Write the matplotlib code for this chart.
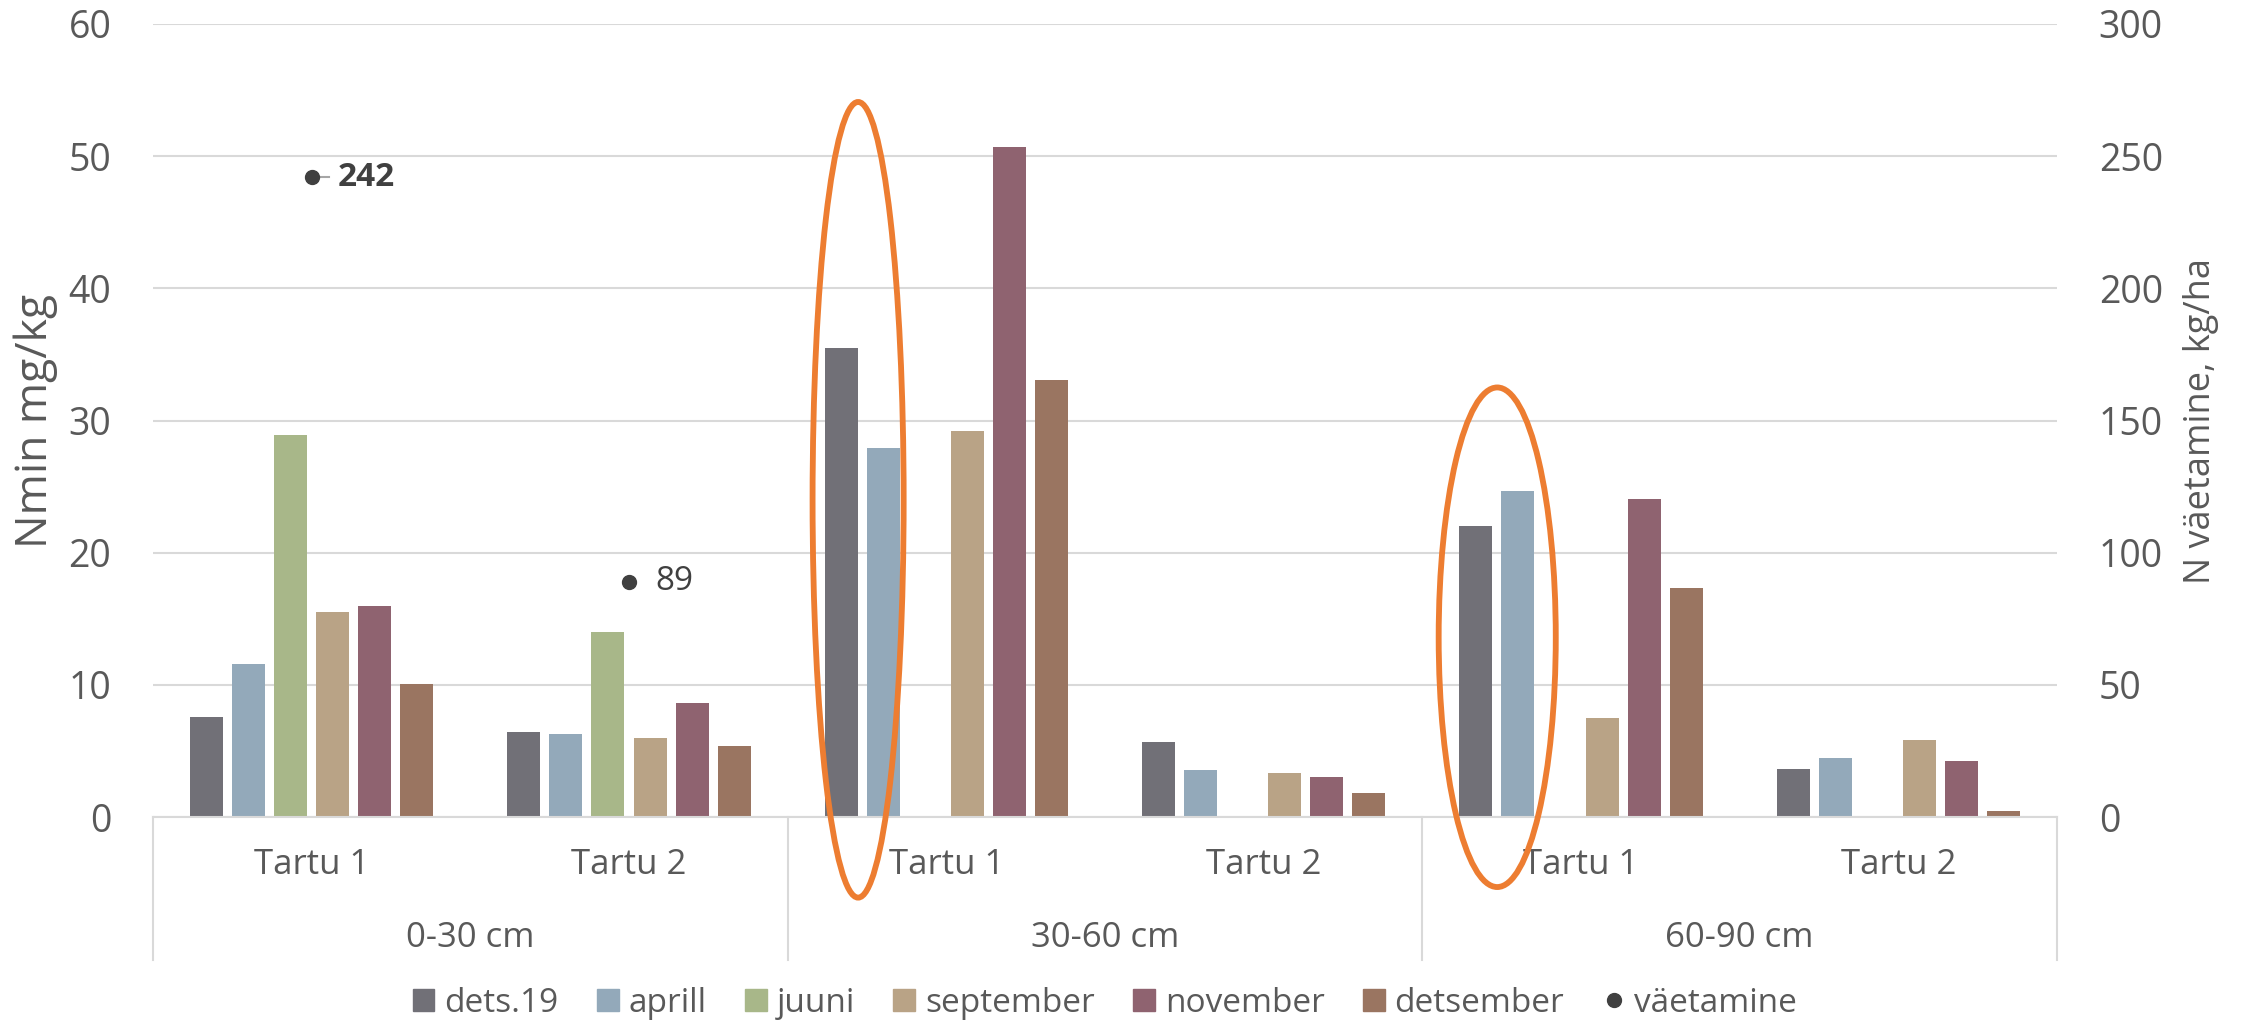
import numpy as np
import matplotlib.pyplot as plt
from matplotlib.patches import Ellipse
from matplotlib.lines import Line2D
from matplotlib.patches import Patch

plt.rcParams['font.family'] = ['Open Sans', 'DejaVu Sans']

# data
kohad = ['Tartu 1', 'Tartu 2', 'Tartu 1', 'Tartu 2', 'Tartu 1', 'Tartu 2']
kihid = ['0-30 cm', '30-60 cm', '60-90 cm']
seeriad = ['dets.19', 'aprill', 'juuni', 'september', 'november', 'detsember']
dets19 = [7.6, 6.4, 35.5, 5.65, 22.0, 3.6]
aprill = [11.6, 6.3, 27.9, 3.55, 24.7, 4.45]
juuni = [28.9, 14.0, np.nan, np.nan, np.nan, np.nan]
september = [15.5, 6.0, 29.2, 3.35, 7.5, 5.85]
november = [16.0, 8.65, 50.7, 3.0, 24.05, 4.2]
detsember = [10.05, 5.35, 33.1, 1.8, 17.35, 0.45]
vaetamine = [242, 89, np.nan, np.nan, np.nan, np.nan]
vaet_bold = [True, False]

varvid = ['#717077', '#93A9BA', '#A8B789', '#B9A386', '#8F6370', '#9A7561']
tekst = '#595959'
grid_c = '#D9D9D9'

fig = plt.figure(figsize=(22.44, 10.23), dpi=100)
ax = fig.add_axes([153/2244, (1023-817)/1023, 1904/2244, 793/1023])

x = np.arange(len(kohad))
samm = 0.1324
laius = 0.104
koik = [dets19, aprill, juuni, september, november, detsember]
for i, vals in enumerate(koik):
    ax.bar(x + (i - 2.5) * samm, vals, laius, color=varvid[i], zorder=2)

ax.set_xlim(-0.5, 5.5)
ax.set_ylim(0, 60)
ax.set_yticks(range(0, 61, 10))
ax.grid(axis='y', color=grid_c, lw=1.5, zorder=0)
ax.set_xticks([])
for s in ['top', 'left', 'right']:
    ax.spines[s].set_visible(False)
ax.spines['bottom'].set_color(grid_c)
ax.spines['bottom'].set_linewidth(1.5)
ax.tick_params(axis='y', length=0, pad=30, labelsize=27, labelcolor=tekst)
ax.set_ylabel('Nmin mg/kg', fontsize=32, color=tekst)
ax.yaxis.set_label_coords(-0.050, 0.5)

# two level category axis
tr = ax.get_xaxis_transform()
for xs in [-0.5, 1.5, 3.5, 5.5]:
    ax.plot([xs, xs], [0, -0.18], transform=tr, color=grid_c, lw=1.5, clip_on=False)
for i, k in enumerate(kohad):
    ax.text(i, -0.06, k, transform=tr, ha='center', va='center', fontsize=25, color=tekst)
for j, k in enumerate(kihid):
    ax.text(2 * j + 0.5, -0.152, k, transform=tr, ha='center', va='center', fontsize=25, color=tekst)

# second axis with fertilisation
ax2 = ax.twinx()
ax2.set_ylim(0, 300)
ax2.set_yticks(range(0, 301, 50))
for s in ax2.spines.values():
    s.set_visible(False)
ax2.tick_params(axis='y', length=0, pad=30, labelsize=27, labelcolor=tekst)
ax2.set_ylabel('N väetamine, kg/ha', fontsize=26, color=tekst, rotation=90)
ax2.yaxis.set_label_coords(1.066, 0.5)
ax2.scatter(x, vaetamine, s=100, color='#404040', zorder=3)
for i, v in enumerate(vaetamine):
    if np.isnan(v):
        continue
    if vaet_bold[i]:
        ax2.plot([i, i + 0.055], [v, v], color='#A6A6A6', lw=1.5, zorder=2)
        ax2.text(i + 0.082, v, f'{v:.0f}', fontsize=24, fontweight='bold', color='#404040', va='center')
    else:
        ax2.text(i + 0.082, v, f'{v:.0f}', fontsize=24, color='#404040', va='center')

# orange highlight ellipses
for cx, cy, w, h in [(1.722, 24.0, 0.287, 60.2), (3.736, 13.6, 0.369, 37.8)]:
    ax.add_patch(Ellipse((cx, cy), w, h, fill=False, edgecolor='#ED7D31', lw=4.2,
                         clip_on=False, zorder=5))

# legend
h = [Patch(color=c, label=s) for c, s in zip(varvid, seeriad)]
h.append(Line2D([], [], marker='o', ls='', color='#404040', markersize=10, label='väetamine'))
fig.legend(handles=h, loc='center', bbox_to_anchor=(1105/2244, 20/1023), ncol=7, frameon=False,
           fontsize=24, handlelength=0.65, handleheight=0.65, handletextpad=0.3,
           columnspacing=1.15, labelcolor=tekst)

fig.savefig('out.png', dpi=100)
